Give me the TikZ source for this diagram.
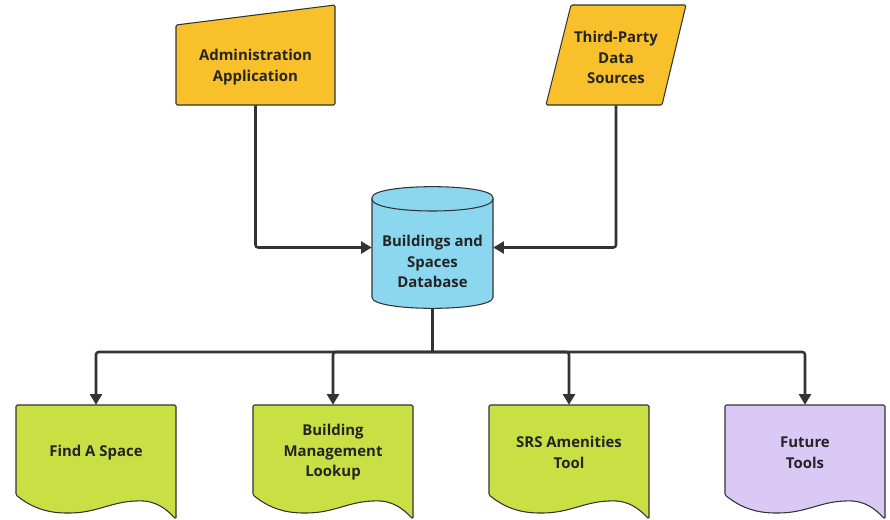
\documentclass[tikz,border=0pt]{standalone}
\usepackage{fontspec}
\setmainfont{Open Sans}
\usetikzlibrary{arrows.meta}
\definecolor{amber}{HTML}{F8C02A}
\definecolor{sky}{HTML}{8AD7EF}
\definecolor{leaf}{HTML}{C8E043}
\definecolor{lilac}{HTML}{D9C9F4}
\definecolor{ink}{HTML}{333333}
\tikzset{
  outline/.style={draw=ink, line width=0.8pt, rounded corners=1pt},
  txt/.style={align=center, inner sep=0pt, text=ink!70!black,
    font=\fontsize{11.2}{15.4}\selectfont\bfseries},
  wire/.style={draw=ink, line width=1.9pt, rounded corners=2pt},
  flow/.style={wire, -{Triangle[length=8pt,width=9pt]}},
}
\begin{document}
\begin{tikzpicture}[x=0.75pt,y=-0.75pt]
  \useasboundingbox (0,0) rectangle (890,519);
  % shapes
  \draw[outline, fill=amber] (176,25) -- (335,5) -- (335,105) -- (176,105) -- cycle;
  \draw[outline, fill=amber] (571,5) -- (686,5) -- (662,105) -- (546,105) -- cycle;
  \draw[outline, fill=sky] (372,199) -- (372,296) .. controls (372,312) and (493,312) .. (493,296)
    -- (493,199) .. controls (493,183) and (372,183) .. (372,199) -- cycle;
  \draw[outline] (372,199) .. controls (372,215) and (493,215) .. (493,199);
  \foreach \x/\c in {16/leaf, 253/leaf, 489/leaf, 725/lilac}
    \draw[outline, fill=\c, shift={(\x,495)}] (0,0) .. controls (15,12) and (30,18) .. (52,18)
      .. controls (80,18) and (95,7) .. (120,6) .. controls (140,5) and (150,14) .. (160,24)
      -- (160,-90) -- (0,-90) -- cycle;
  % nodes
  \node[txt, minimum width=119.25pt, minimum height=57pt] (admin) at (255.5,67) {Administration\\Application};
  \node[txt, minimum width=105pt, minimum height=71.25pt] (third) at (616,57.5) {Third-Party\\Data\\Sources};
  \node[minimum width=90.75pt, minimum height=90.75pt, inner sep=0pt] (db) at (432.5,247.5) {};
  \node[txt] (dblabel) at (432.5,261.5) {Buildings and\\Spaces\\Database};
  \node[txt, minimum width=120pt, minimum height=71.25pt] (find) at (96,452.5) {Find A Space};
  \node[txt, minimum width=120pt, minimum height=71.25pt] (lookup) at (333,452.5) {Building\\Management\\Lookup};
  \node[txt, minimum width=120pt, minimum height=71.25pt] (srs) at (569,452.5) {SRS Amenities\\Tool};
  \node[txt, minimum width=120pt, minimum height=71.25pt] (future) at (805,452.5) {Future\\Tools};
  \coordinate (bus) at (432.5,352);
  % connectors
  \draw[flow] (admin.south) |- (db.west);
  \draw[flow] (third.south) |- (db.east);
  \draw[wire] (db.south) -- (bus);
  \foreach \n in {find, lookup, srs, future}
    \draw[flow] (bus) -| (\n.north);
\end{tikzpicture}
\end{document}
